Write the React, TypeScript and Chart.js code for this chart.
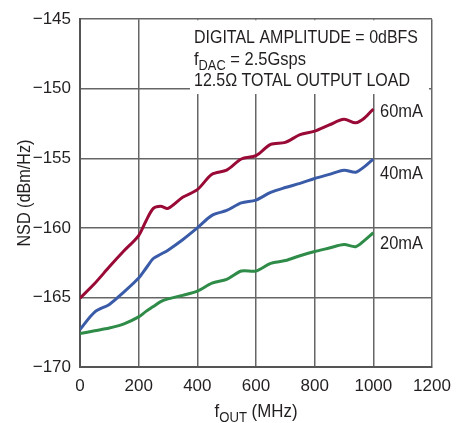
import React, { useEffect, useRef } from "react";
import { Chart, registerables } from "chart.js";

Chart.register(...registerables);

const freqMHz = [0, 50, 100, 150, 200, 225, 250, 275, 300, 350, 400, 450, 500, 550, 600, 650, 700, 750, 800, 850, 900, 940, 970, 1000];
const nsd60mA = [-165.05, -164.0, -162.8, -161.65, -160.55, -159.5, -158.6, -158.45, -158.6, -157.8, -157.25, -156.15, -155.85, -155.05, -154.8, -154.0, -153.85, -153.3, -153.05, -152.6, -152.2, -152.45, -152.1, -151.45];
const nsd40mA = [-167.3, -166.05, -165.5, -164.6, -163.6, -162.9, -162.2, -161.9, -161.6, -160.85, -160.0, -159.1, -158.75, -158.2, -158.0, -157.45, -157.1, -156.8, -156.45, -156.15, -155.85, -156.0, -155.6, -155.05];
const nsd20mA = [-167.6, -167.4, -167.2, -166.9, -166.4, -166.0, -165.65, -165.3, -165.1, -164.85, -164.55, -163.97, -163.7, -163.1, -163.1, -162.55, -162.35, -162.0, -161.7, -161.45, -161.2, -161.35, -160.9, -160.35];
const seriesLabels = ["60mA", "40mA", "20mA"];
const labelValues = [-151.7, -156.15, -161.15];
const noteLines = ["DIGITAL AMPLITUDE = 0dBFS", "f|DAC| = 2.5Gsps", "12.5Ω TOTAL OUTPUT LOAD"];
const noteWidths = [224, 112, 216];

const FONT = '"Liberation Sans", Arial, sans-serif';
const TXT = "#231f20";
const COLORS = ["#990a36", "#3a5ca8", "#2f8c48"];

function drawSub(ctx: CanvasRenderingContext2D, x: number, y: number, text: string, size: number, align: "left" | "center", maxW: number) {
  const parts = text.split("|");
  const big = `${size}px ${FONT}`;
  const small = `${Math.round(size * 0.75)}px ${FONT}`;
  let total = 0;
  parts.forEach((p, i) => {
    ctx.font = i === 1 ? small : big;
    total += ctx.measureText(p).width;
  });
  const k = Math.min(1, maxW / total);
  const w = total * k;
  let cx = align === "center" ? x - w / 2 : x;
  ctx.textAlign = "left";
  ctx.textBaseline = "alphabetic";
  parts.forEach((p, i) => {
    ctx.font = i === 1 ? small : big;
    const pw = ctx.measureText(p).width * k;
    ctx.fillText(p, cx, i === 1 ? y + 5 : y, pw);
    cx += pw;
  });
}

const annot = {
  id: "annot",
  beforeDatasetsDraw(chart: any) {
    const ctx = chart.ctx as CanvasRenderingContext2D;
    const a = chart.chartArea;
    ctx.save();
    ctx.fillStyle = "#ffffff";
    ctx.fillRect(190, a.top + 1, a.right - 3 - 190, 93 - a.top);
    ctx.restore();
  },
  afterDraw(chart: any) {
    const ctx = chart.ctx as CanvasRenderingContext2D;
    const a = chart.chartArea;
    ctx.save();
    ctx.fillStyle = TXT;
    noteLines.forEach((l, i) => drawSub(ctx, 194, 43 + i * 21.5, l, 18, "left", noteWidths[i]));
    const ys = chart.scales.y;
    ctx.font = `18px ${FONT}`;
    ctx.textBaseline = "middle";
    ctx.textAlign = "left";
    seriesLabels.forEach((s, i) => {
      ctx.fillText(s, 380, ys.getPixelForValue(labelValues[i]), 43);
    });
    ctx.save();
    ctx.translate(25, (a.top + a.bottom) / 2);
    ctx.rotate(-Math.PI / 2);
    ctx.textAlign = "center";
    ctx.textBaseline = "middle";
    ctx.font = `18px ${FONT}`;
    ctx.fillText("NSD (dBm/Hz)", 0, 0, 107);
    ctx.restore();
    drawSub(ctx, (a.left + a.right) / 2, 417, "f|OUT| (MHz)", 18, "center", 83);
    ctx.restore();
  },
};

export default function App() {
  const ref = useRef<HTMLCanvasElement>(null);
  useEffect(() => {
    if (!ref.current) return;
    const mk = (vals: number[], c: string) => ({
      data: freqMHz.map((f, i) => ({ x: f, y: vals[i] })),
      borderColor: c,
      backgroundColor: c,
      borderWidth: 3,
      pointRadius: 0,
      tension: 0.3,
      fill: false,
    });
    const chart = new Chart(ref.current, {
      type: "line",
      data: {
        datasets: [mk(nsd60mA, COLORS[0]), mk(nsd40mA, COLORS[1]), mk(nsd20mA, COLORS[2])],
      },
      options: {
        animation: false,
        responsive: false,
        maintainAspectRatio: false,
        layout: { padding: { left: 0, right: 36, top: 15, bottom: 0 } },
        plugins: { legend: { display: false }, tooltip: { enabled: false }, title: { display: false } },
        scales: {
          x: {
            type: "linear",
            min: 0,
            max: 1200,
            ticks: {
              stepSize: 200,
              padding: 9,
              color: TXT,
              font: { family: FONT, size: 17 },
              maxRotation: 0,
              callback: (v: any) => String(v),
            },
            grid: { color: "#666", lineWidth: 1.5, drawTicks: false },
            border: { color: "#555", width: 2 },
            afterFit: (s: any) => { s.height = 56; },
          },
          y: {
            type: "linear",
            min: -170,
            max: -145,
            ticks: {
              stepSize: 5,
              padding: 9,
              color: TXT,
              font: { family: FONT, size: 17 },
              callback: (v: any) => String(v).replace("-", "\u2212"),
            },
            grid: { color: "#666", lineWidth: 1.5, drawTicks: false },
            border: { color: "#555", width: 2 },
            afterFit: (s: any) => { s.width = 80; },
          },
        },
      },
      plugins: [annot],
    });
    return () => chart.destroy();
  }, []);
  return (
    <div style={{ position: "fixed", left: 0, top: 0, width: 468, height: 423, background: "#fff" }}>
      <canvas ref={ref} width={468} height={423} style={{ width: 468, height: 423, display: "block" }} />
    </div>
  );
}
